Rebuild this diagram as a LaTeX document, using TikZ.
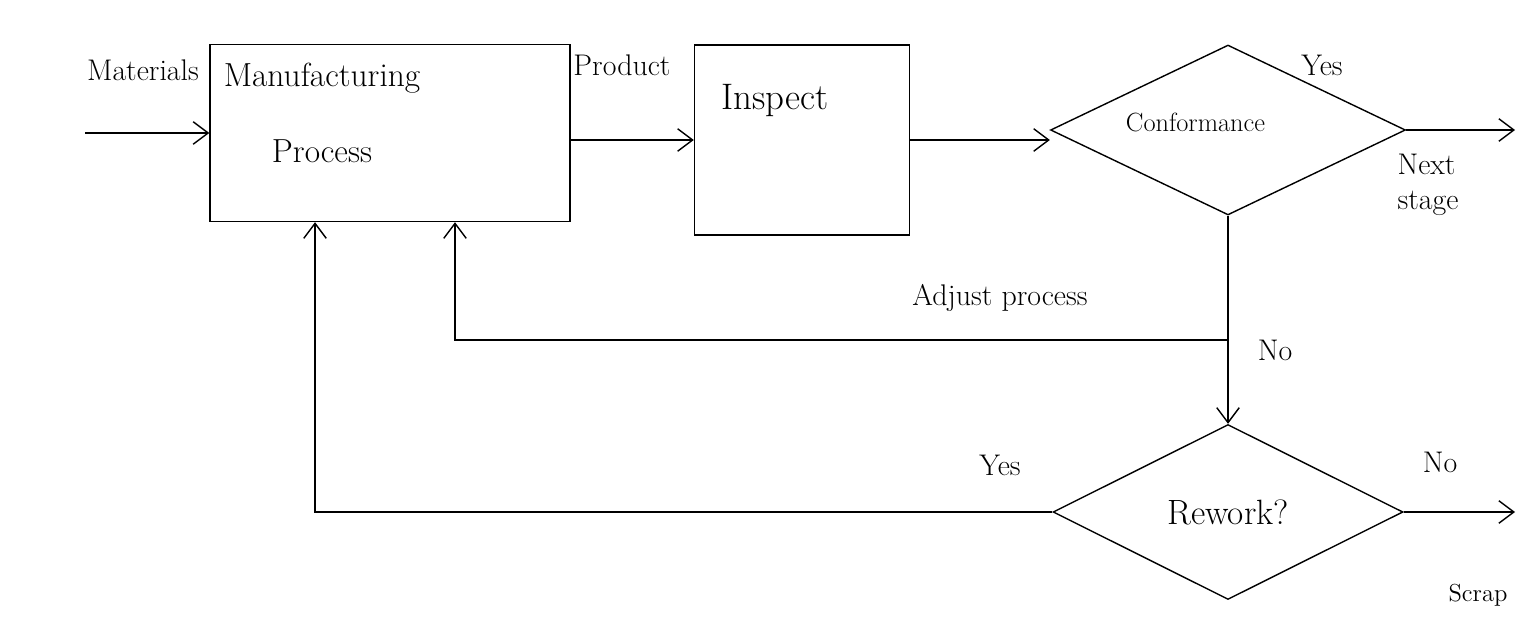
\documentclass[tikz,border=0pt]{standalone}
\usepackage{tikz}
\usetikzlibrary{positioning,shapes.geometric,arrows.meta}

\begin{document}
\begin{tikzpicture}[
  x=0.02cm, y=-0.02cm,
  line width=0.8pt,
  box/.style={draw, minimum width=#1, inner sep=0pt},
  dia/.style={draw, diamond, aspect=2, minimum width=7cm, minimum height=3.4cm, inner sep=0pt, font=\fontsize{17}{20}\selectfont},
  lbl/.style={font=\fontsize{17}{20}\selectfont, inner sep=1pt},
  big/.style={font=\fontsize{19}{23}\selectfont, inner sep=1pt},
  arr/.style={-{Straight Barb[length=3mm,width=4.5mm]}},
]
\useasboundingbox (0,0) rectangle (1528,628);
% boxes
\node[box=7.2cm, minimum height=3.54cm] (mfg) at (390,133) {};
\node[big, align=center] (mfgtxt) at (322,113) {Manufacturing\\[7mm]Process};
\node[box=4.3cm, minimum height=3.8cm] (insp) at (802,140) {};
\node[big, font=\fontsize{21}{25}\selectfont] (insptxt) at (775,100) {Inspect};
% decisions
\node[dia, minimum width=7.1cm, font=\fontsize{15}{18}\selectfont, text depth=0pt] (conf) at (1228,130) {\hspace*{-1.3cm}\raisebox{3mm}{Conformance}};
\node[dia, minimum height=3.5cm, font=\fontsize{20}{24}\selectfont] (rew) at (1228,512) {Rework?};
% free ends
\coordinate (matin) at (85,133);
\coordinate (nextout) at (1515,130);
\coordinate (scrapout) at (1515,512);
\coordinate (adj) at (1228,340);
\coordinate (mfgA) at ([xshift=-1.5cm]mfg.south);
\coordinate (mfgB) at ([xshift=1.3cm]mfg.south);
% flow
\draw[arr] (matin) -- (mfg.west);
\draw[arr] (mfg.east |- insp.west) -- (insp.west);
\draw[arr] (insp.east) -- (insp.east -| conf.west);
\draw[arr] (conf.east) -- (nextout);
\draw[arr] (conf.south) -- (rew.north);
\draw[arr] (adj) -| (mfgB);
\draw[arr] (rew.west) -| (mfgA);
\draw[arr] (rew.east) -- (scrapout);
% labels
\node[lbl] (lmat) at (143,70) {Materials};
\node[lbl] (lprod) at (622,65) {Product};
\node[lbl] (lyes1) at (1322,65) {Yes};
\node[lbl, align=left] (lnext) at (1428,185) {Next\\stage};
\node[lbl] (ladj) at (1000,298) {Adjust process};
\node[lbl] (lno1) at (1275,350) {No};
\node[lbl] (lyes2) at (1000,465) {Yes};
\node[lbl] (lno2) at (1440,462) {No};
\node[lbl, font=\fontsize{14}{16}\selectfont] (lscrap) at (1478,595) {Scrap};
\end{tikzpicture}
\end{document}
